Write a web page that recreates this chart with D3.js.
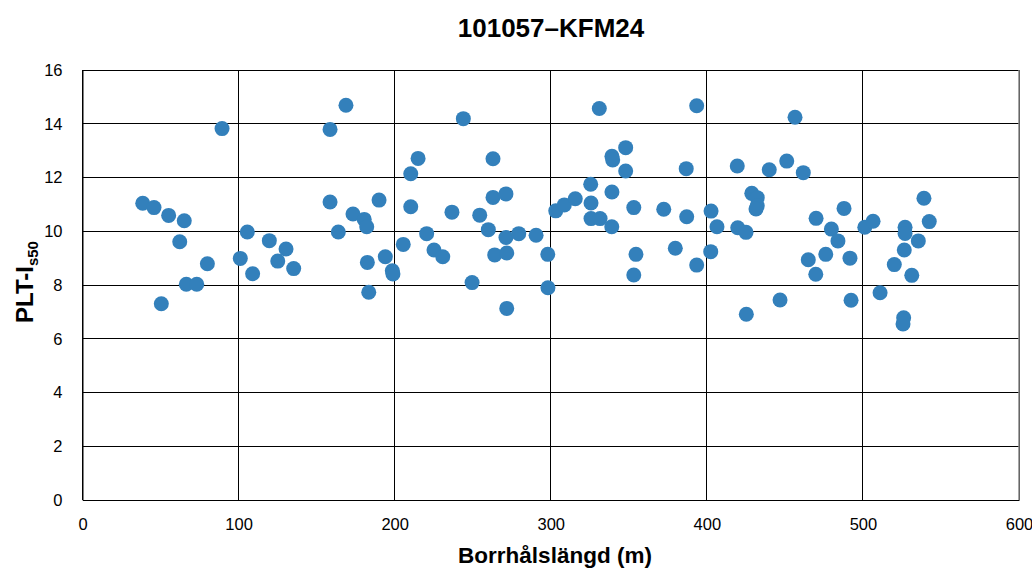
<!DOCTYPE html>
<html>
<head>
<meta charset="utf-8">
<script src="https://cdn.jsdelivr.net/npm/d3@7"></script>
<style>
  body { margin: 0; background: #fff; }
  svg { display: block; font-family: "Liberation Sans", Arial, sans-serif; }
</style>
</head>
<body>
<svg id="chart" width="1032" height="569"></svg>
<script>
const title = "101057\u2013KFM24";
const xLabel = "Borrhålslängd (m)";
const xTicks = [0, 100, 200, 300, 400, 500, 600];
const yTicks = [0, 2, 4, 6, 8, 10, 12, 14, 16];

const depth = [
  38.6, 45.8, 55.2, 65.2, 62.3, 50.5, 66.5, 73.2, 80.0, 89.4,
  101.1, 105.6, 109.0, 119.7, 125.1, 130.4, 135.3, 158.6, 168.8, 158.6,
  173.3, 180.5, 182.1, 190.0, 163.9, 182.5, 194.0, 198.5, 198.9, 183.4,
  205.5, 210.3, 215.0, 210.3, 220.5, 225.2, 230.8, 244.0, 236.7, 249.6,
  254.5, 260.0, 263.0, 263.0, 271.3, 271.3, 264.1, 271.8, 271.8, 279.5,
  290.6, 298.1, 298.2, 303.2, 308.7, 315.7, 325.6, 325.8, 325.8, 331.6,
  331.1, 339.2, 339.7, 348.0, 348.0, 339.2, 339.1, 353.2, 354.6, 353.2,
  372.4, 379.8, 387.1, 386.8, 393.5, 393.5, 402.7, 406.5, 402.5, 456.5,
  419.5, 440.0, 451.2, 461.8, 428.8, 432.3, 432.3, 431.5, 419.8, 425.1,
  470.0, 479.8, 487.9, 484.0, 476.2, 465.0, 469.8, 491.7, 501.2, 506.5,
  446.9, 425.3, 492.4, 511.0, 539.1, 542.5, 527.0, 527.0, 535.5, 526.5,
  520.1, 531.3, 526.1, 525.7
];
const plt = [
  11.04, 10.88, 10.59, 10.39, 9.61, 7.30, 8.03, 8.03, 8.79, 13.82,
  8.99, 9.97, 8.42, 9.65, 8.89, 9.34, 8.61, 13.79, 14.69, 11.09,
  10.64, 10.44, 10.17, 11.16, 9.97, 8.84, 9.05, 8.53, 8.41, 7.73,
  9.51, 12.14, 12.71, 10.91, 9.91, 9.30, 9.05, 14.19, 10.71, 8.09,
  10.60, 10.06, 12.70, 11.26, 11.39, 9.77, 9.12, 9.19, 7.13, 9.91,
  9.85, 9.14, 7.90, 10.76, 10.98, 11.21, 11.75, 11.05, 10.47, 10.47,
  14.57, 12.79, 12.65, 13.11, 12.24, 11.46, 10.17, 10.88, 9.14, 8.37,
  10.82, 9.37, 10.54, 12.33, 14.67, 8.74, 10.75, 10.17, 9.24, 14.24,
  12.43, 12.29, 12.61, 12.18, 11.41, 11.25, 10.95, 10.83, 10.13, 9.96,
  10.48, 10.08, 10.85, 9.64, 9.14, 8.94, 8.40, 9.00, 10.15, 10.37,
  7.44, 6.91, 7.43, 7.71, 11.23, 10.36, 10.15, 9.92, 9.64, 9.30,
  8.76, 8.36, 6.78, 6.55
];

const svg = d3.select("#chart");
const mLeft = 82.5, mRight = 1019, mTop = 70, mBottom = 500;

const x = d3.scaleLinear().domain([0, 600]).range([mLeft, mRight]);
const y = d3.scaleLinear().domain([0, 16]).range([mBottom, mTop]);

// grid
const grid = svg.append("g");
grid.selectAll("line.h").data(yTicks).join("line")
  .attr("x1", mLeft).attr("x2", mRight)
  .attr("y1", d => y(d)).attr("y2", d => y(d))
  .attr("stroke", "#000").attr("stroke-width", 1).attr("shape-rendering", "crispEdges");
grid.selectAll("line.v").data(xTicks).join("line")
  .attr("y1", mTop).attr("y2", mBottom)
  .attr("x1", d => x(d)).attr("x2", d => x(d))
  .attr("stroke", "#000").attr("stroke-width", 1).attr("shape-rendering", "crispEdges");

svg.append("line").attr("x1", mRight).attr("x2", mRight).attr("y1", mTop).attr("y2", mBottom)
  .attr("stroke", "#888").attr("stroke-width", 1.5);

// axes (labels only)
const xAxis = d3.axisBottom(x).tickValues(xTicks).tickSize(0).tickPadding(18);
const gx = svg.append("g").attr("transform", `translate(0,${mBottom})`).call(xAxis);
gx.select(".domain").attr("stroke", "#000");
gx.selectAll("text").attr("font-size", 16.5).attr("fill", "#000")
  .attr("font-family", "'Liberation Sans', Arial, sans-serif");

const yAxis = d3.axisLeft(y).tickValues(yTicks).tickSize(0).tickPadding(20);
const gy = svg.append("g").attr("transform", `translate(${mLeft},0)`).call(yAxis);
gy.select(".domain").attr("stroke", "#000");
gy.selectAll("text").attr("font-size", 16.5).attr("fill", "#000")
  .attr("font-family", "'Liberation Sans', Arial, sans-serif");

// points
svg.append("g").selectAll("circle").data(depth).join("circle")
  .attr("cx", (d) => x(d))
  .attr("cy", (d, i) => y(plt[i]))
  .attr("r", 7.5)
  .attr("fill", "#3380bb");

// title
svg.append("text").attr("x", 551).attr("y", 37)
  .attr("text-anchor", "middle").attr("font-size", 26).attr("font-weight", "bold")
  .text(title);

// x label
svg.append("text").attr("x", 555).attr("y", 563)
  .attr("text-anchor", "middle").attr("font-size", 22.5).attr("font-weight", "bold")
  .text(xLabel);

// y label
const yl = svg.append("text")
  .attr("transform", "translate(33,282) rotate(-90)")
  .attr("text-anchor", "middle").attr("font-size", 24).attr("font-weight", "bold");
yl.append("tspan").text("PLT-I");
yl.append("tspan").attr("font-size", 15).attr("dy", 5).text("s50");
</script>
</body>
</html>
